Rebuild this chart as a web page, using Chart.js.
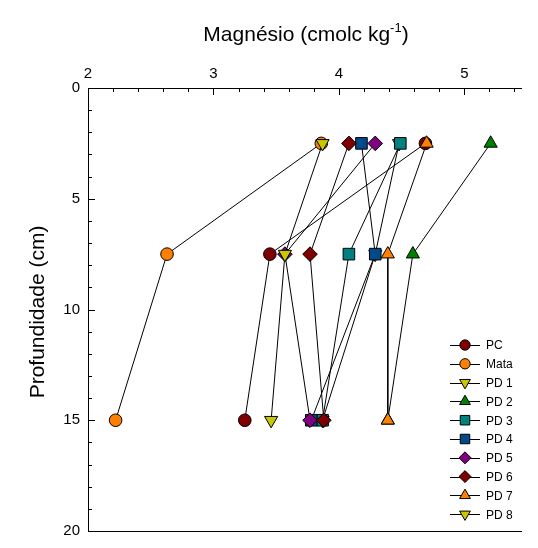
<!DOCTYPE html>
<html>
<head>
<meta charset="utf-8">
<script src="https://cdn.jsdelivr.net/npm/chart.js@4"></script>
<style>
  body { margin: 0; background: #fff; }
</style>
</head>
<body>
<canvas id="myChart" width="538" height="548"></canvas>
<script>
// depth of each sample layer (cm)
const depths = [2.5, 7.5, 15];

// Mg values per treatment, one per depth
const seriesNames = ['PC', 'Mata', 'PD 1', 'PD 2', 'PD 3', 'PD 4', 'PD 5', 'PD 6', 'PD 7', 'PD 8'];
const pcValues   = [4.69, 3.45, 3.25];
const mataValues = [3.86, 2.63, 2.22];
const pd1Values  = [4.48, 4.29, 3.87];
const pd2Values  = [5.21, 4.59, 4.39];
const pd3Values  = [4.49, 4.08, 3.87];
const pd4Values  = [4.18, 4.29, 3.78];
const pd5Values  = [4.29, 3.57, 3.77];
const pd6Values  = [4.08, 3.77, 3.88];
const pd7Values  = [4.70, 4.39, 4.39];
const pd8Values  = [3.87, 3.57, 3.46];

const xTicks = [2, 3, 4, 5];
const yTicks = [0, 5, 10, 15, 20];

const FONT = '"Liberation Sans", Arial, sans-serif';

// marker look for each series
const styles = [
  {color: '#800000', shape: 'circle',   radius: 6.3, rot: 0},
  {color: '#ff8000', shape: 'circle',   radius: 6.3, rot: 0},
  {color: '#c8c800', shape: 'triangle', radius: 7.6, rot: 180},
  {color: '#008000', shape: 'triangle', radius: 7.6, rot: 0},
  {color: '#008080', shape: 'rect',     radius: 8.2, rot: 0},
  {color: '#004a8c', shape: 'rect',     radius: 8.2, rot: 0},
  {color: '#800080', shape: 'rectRot',  radius: 7.3, rot: 0},
  {color: '#800000', shape: 'rectRot',  radius: 7.3, rot: 0},
  {color: '#ff8000', shape: 'triangle', radius: 7.6, rot: 0},
  {color: '#c8c800', shape: 'triangle', radius: 7.6, rot: 180}
];

const allValues = [pcValues, mataValues, pd1Values, pd2Values, pd3Values,
                   pd4Values, pd5Values, pd6Values, pd7Values, pd8Values];

const datasets = allValues.map((vals, i) => ({
  label: seriesNames[i],
  data: vals.map((v, j) => ({x: v, y: depths[j]})),
  showLine: true,
  borderColor: '#000',
  borderWidth: 1,
  pointStyle: styles[i].shape,
  pointRotation: styles[i].rot,
  pointRadius: styles[i].radius,
  pointHoverRadius: styles[i].radius,
  pointBackgroundColor: styles[i].color,
  pointBorderColor: '#000',
  pointBorderWidth: 1,
  order: 20 - i   // later series drawn on top
}));

function drawMarker(ctx, shape, x, y, r, rot) {
  ctx.beginPath();
  if (shape === 'circle') {
    ctx.arc(x, y, r, 0, Math.PI * 2);
  } else if (shape === 'rect') {
    const s = Math.SQRT1_2 * r;
    ctx.rect(x - s, y - s, 2 * s, 2 * s);
  } else if (shape === 'rectRot') {
    ctx.moveTo(x, y - r); ctx.lineTo(x + r, y); ctx.lineTo(x, y + r); ctx.lineTo(x - r, y);
    ctx.closePath();
  } else {
    let a = rot * Math.PI / 180;
    ctx.moveTo(x + Math.sin(a) * r, y - Math.cos(a) * r);
    a += 2 * Math.PI / 3;
    ctx.lineTo(x + Math.sin(a) * r, y - Math.cos(a) * r);
    a += 2 * Math.PI / 3;
    ctx.lineTo(x + Math.sin(a) * r, y - Math.cos(a) * r);
    ctx.closePath();
  }
  ctx.fill();
  ctx.stroke();
}

const decor = {
  id: 'decor',
  afterDraw(chart) {
    const {ctx, chartArea: a, scales: {x, y}} = chart;
    ctx.save();
    ctx.strokeStyle = '#000';
    ctx.lineWidth = 1;

    // frame: top, left, bottom
    ctx.beginPath();
    ctx.moveTo(a.left + 0.5, a.bottom + 0.5);
    ctx.lineTo(a.left + 0.5, a.top + 0.5);
    ctx.lineTo(a.right, a.top + 0.5);
    ctx.moveTo(a.left + 0.5, a.bottom + 0.5);
    ctx.lineTo(a.right, a.bottom + 0.5);
    ctx.stroke();

    // inward ticks
    ctx.beginPath();
    for (let k = 0; k <= 17; k++) {
      const v = 2 + k * 0.2;
      const px = Math.round(x.getPixelForValue(v)) + 0.5;
      const len = (k % 5 === 0) ? 7 : 4;
      ctx.moveTo(px, a.top);
      ctx.lineTo(px, a.top + len);
    }
    for (let v = 0; v <= 20; v++) {
      const py = Math.round(y.getPixelForValue(v)) + 0.5;
      const len = (v % 5 === 0) ? 7 : 4;
      ctx.moveTo(a.left, py);
      ctx.lineTo(a.left + len, py);
    }
    ctx.stroke();

    // x title with superscript
    ctx.fillStyle = '#000';
    ctx.textBaseline = 'alphabetic';
    const main = 'Magnésio (cmolc kg', sup = '-1', end = ')';
    ctx.font = '21px ' + FONT;
    const w1 = ctx.measureText(main).width, w3 = ctx.measureText(end).width;
    ctx.font = '13px ' + FONT;
    const w2 = ctx.measureText(sup).width;
    let tx = 306 - (w1 + w2 + w3) / 2;
    const ty = 41;
    ctx.font = '21px ' + FONT;
    ctx.textAlign = 'left';
    ctx.fillText(main, tx, ty);
    ctx.font = '13px ' + FONT;
    ctx.fillText(sup, tx + w1, ty - 9);
    ctx.font = '21px ' + FONT;
    ctx.fillText(end, tx + w1 + w2, ty);

    // y title
    ctx.save();
    ctx.translate(44, 312);
    ctx.rotate(-Math.PI / 2);
    ctx.textAlign = 'center';
    ctx.fillText('Profundidade (cm)', 0, 0);
    ctx.restore();

    // legend
    ctx.font = '12px ' + FONT;
    ctx.textBaseline = 'middle';
    ctx.textAlign = 'left';
    seriesNames.forEach((name, i) => {
      const ly = 345 + i * 18.8;
      ctx.strokeStyle = '#000';
      ctx.beginPath();
      ctx.moveTo(450, Math.round(ly) + 0.5);
      ctx.lineTo(480, Math.round(ly) + 0.5);
      ctx.stroke();
      ctx.fillStyle = styles[i].color;
      drawMarker(ctx, styles[i].shape, 465, ly, styles[i].radius * 0.82, styles[i].rot);
      ctx.fillStyle = '#000';
      ctx.fillText(name, 486, ly + 1);
    });
    ctx.restore();
  }
};

new Chart(document.getElementById('myChart'), {
  type: 'scatter',
  data: {datasets: datasets},
  plugins: [decor],
  options: {
    responsive: false,
    animation: false,
    layout: {padding: {left: 0, top: 0, right: 16, bottom: 7}},
    plugins: {legend: {display: false}, tooltip: {enabled: false}},
    scales: {
      x: {
        type: 'linear',
        position: 'top',
        min: 2,
        max: 5.46,
        afterBuildTicks: s => { s.ticks = xTicks.map(v => ({value: v})); },
        afterFit: s => { s.height = 88; },
        grid: {display: false, drawTicks: false},
        border: {display: false},
        ticks: {color: '#000', font: {size: 15, family: FONT}, padding: 5}
      },
      y: {
        type: 'linear',
        reverse: true,
        min: 0,
        max: 20,
        afterBuildTicks: s => { s.ticks = yTicks.map(v => ({value: v})); },
        afterFit: s => { s.width = 88; },
        grid: {display: false, drawTicks: false},
        border: {display: false},
        ticks: {color: '#000', font: {size: 15, family: FONT}, padding: 8}
      }
    }
  }
});
</script>
</body>
</html>
